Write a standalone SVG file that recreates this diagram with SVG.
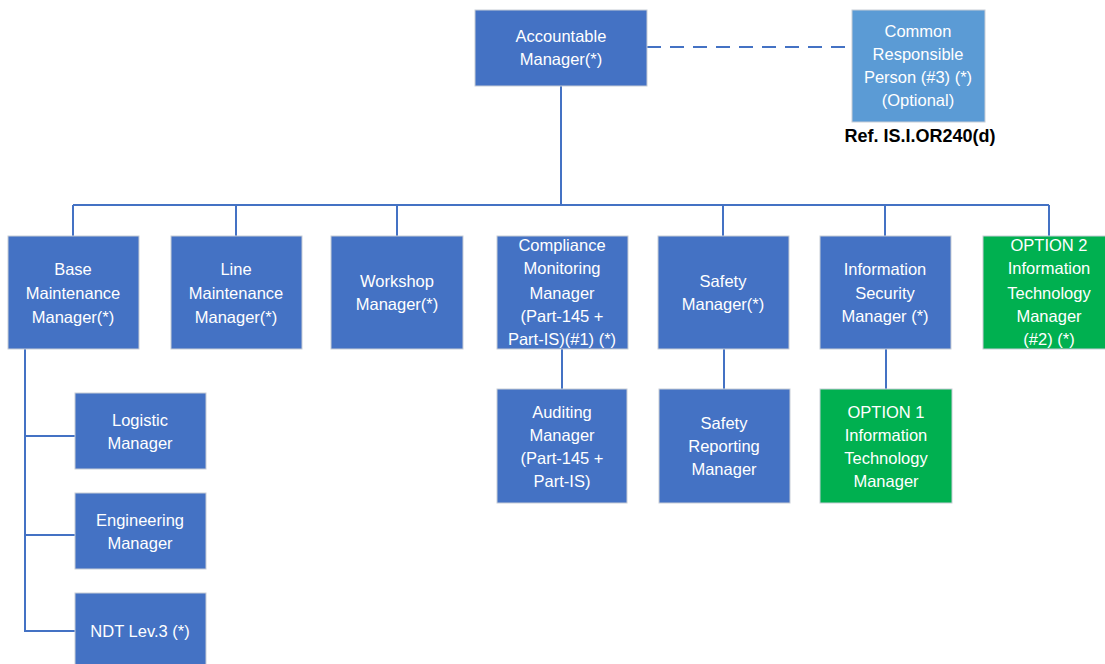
<svg xmlns="http://www.w3.org/2000/svg" width="1105" height="664" viewBox="0 0 1105 664">
  <style>
    .box { fill: #4472C4; stroke: #C8CDD6; stroke-width: 1; }
    .green { fill: #00B050; stroke: #C8CDD6; stroke-width: 1; }
    .light { fill: #5B9BD5; stroke: #C8CDD6; stroke-width: 1; }
    .lbl { font-family: "Liberation Sans", Arial, sans-serif; font-size: 16.5px; fill: #FFFFFF; text-anchor: middle; }
    .ref { font-family: "Liberation Sans", Arial, sans-serif; font-size: 18px; font-weight: bold; fill: #000000; text-anchor: middle; }
    .wire { fill: none; stroke: #4472C4; stroke-width: 2; }
    .dash { fill: none; stroke: #4472C4; stroke-width: 2; stroke-dasharray: 14 9; }
  </style>
  <rect width="1105" height="664" fill="#FFFFFF"/>

  <g id="connectors">
    <line class="dash" x1="647" y1="47" x2="852" y2="47"/>
    <line class="wire" x1="561" y1="86" x2="561" y2="205"/>
    <line class="wire" x1="73" y1="205" x2="1049" y2="205"/>
    <line class="wire" x1="73" y1="205" x2="73" y2="236"/>
    <line class="wire" x1="236" y1="205" x2="236" y2="236"/>
    <line class="wire" x1="397" y1="205" x2="397" y2="236"/>
    <line class="wire" x1="723" y1="205" x2="723" y2="236"/>
    <line class="wire" x1="885" y1="205" x2="885" y2="236"/>
    <line class="wire" x1="1049" y1="205" x2="1049" y2="236"/>
    <line class="wire" x1="562" y1="349" x2="562" y2="389"/>
    <line class="wire" x1="724" y1="349" x2="724" y2="389"/>
    <line class="wire" x1="886" y1="349" x2="886" y2="389"/>
    <polyline class="wire" points="25,349 25,631 75,631"/>
    <line class="wire" x1="25" y1="436" x2="75" y2="436"/>
    <line class="wire" x1="25" y1="535" x2="75" y2="535"/>
  </g>

  <g id="accountable-manager">
    <rect class="box" x="475" y="10" width="172" height="76"/>
    <text class="lbl" x="561" y="42">Accountable</text>
    <text class="lbl" x="561" y="65">Manager(*)</text>
  </g>

  <g id="common-responsible-person">
    <rect class="light" x="852" y="10" width="133" height="112"/>
    <text class="lbl" x="918" y="37">Common</text>
    <text class="lbl" x="918" y="60">Responsible</text>
    <text class="lbl" x="918" y="83">Person (#3) (*)</text>
    <text class="lbl" x="918" y="106">(Optional)</text>
    <text class="ref" x="920" y="142">Ref. IS.I.OR240(d)</text>
  </g>

  <g id="base-maintenance-manager">
    <rect class="box" x="8" y="236" width="131" height="113"/>
    <text class="lbl" x="73" y="275">Base</text>
    <text class="lbl" x="73" y="299">Maintenance</text>
    <text class="lbl" x="73" y="323">Manager(*)</text>
  </g>

  <g id="line-maintenance-manager">
    <rect class="box" x="171" y="236" width="131" height="113"/>
    <text class="lbl" x="236" y="275">Line</text>
    <text class="lbl" x="236" y="299">Maintenance</text>
    <text class="lbl" x="236" y="323">Manager(*)</text>
  </g>

  <g id="workshop-manager">
    <rect class="box" x="331" y="236" width="132" height="113"/>
    <text class="lbl" x="397" y="287">Workshop</text>
    <text class="lbl" x="397" y="310">Manager(*)</text>
  </g>

  <g id="compliance-monitoring-manager">
    <rect class="box" x="497" y="236" width="131" height="113"/>
    <text class="lbl" x="562" y="251">Compliance</text>
    <text class="lbl" x="562" y="274">Monitoring</text>
    <text class="lbl" x="562" y="299">Manager</text>
    <text class="lbl" x="562" y="322">(Part-145 +</text>
    <text class="lbl" x="562" y="345">Part-IS)(#1) (*)</text>
  </g>

  <g id="safety-manager">
    <rect class="box" x="658" y="236" width="131" height="113"/>
    <text class="lbl" x="723" y="287">Safety</text>
    <text class="lbl" x="723" y="310">Manager(*)</text>
  </g>

  <g id="information-security-manager">
    <rect class="box" x="820" y="236" width="131" height="113"/>
    <text class="lbl" x="885" y="275">Information</text>
    <text class="lbl" x="885" y="299">Security</text>
    <text class="lbl" x="885" y="322">Manager (*)</text>
  </g>

  <g id="option2-it-manager">
    <rect class="green" x="983" y="236" width="131" height="113"/>
    <text class="lbl" x="1049" y="251">OPTION 2</text>
    <text class="lbl" x="1049" y="274">Information</text>
    <text class="lbl" x="1049" y="299">Technology</text>
    <text class="lbl" x="1049" y="322">Manager</text>
    <text class="lbl" x="1049" y="345">(#2) (*)</text>
  </g>

  <g id="auditing-manager">
    <rect class="box" x="497" y="389" width="130" height="114"/>
    <text class="lbl" x="562" y="418">Auditing</text>
    <text class="lbl" x="562" y="441">Manager</text>
    <text class="lbl" x="562" y="464">(Part-145 +</text>
    <text class="lbl" x="562" y="487">Part-IS)</text>
  </g>

  <g id="safety-reporting-manager">
    <rect class="box" x="659" y="389" width="131" height="114"/>
    <text class="lbl" x="724" y="429">Safety</text>
    <text class="lbl" x="724" y="452">Reporting</text>
    <text class="lbl" x="724" y="475">Manager</text>
  </g>

  <g id="option1-it-manager">
    <rect class="green" x="820" y="389" width="132" height="114"/>
    <text class="lbl" x="886" y="418">OPTION 1</text>
    <text class="lbl" x="886" y="441">Information</text>
    <text class="lbl" x="886" y="464">Technology</text>
    <text class="lbl" x="886" y="487">Manager</text>
  </g>

  <g id="logistic-manager">
    <rect class="box" x="75" y="393" width="131" height="76"/>
    <text class="lbl" x="140" y="426">Logistic</text>
    <text class="lbl" x="140" y="449">Manager</text>
  </g>

  <g id="engineering-manager">
    <rect class="box" x="75" y="493" width="131" height="76"/>
    <text class="lbl" x="140" y="526">Engineering</text>
    <text class="lbl" x="140" y="549">Manager</text>
  </g>

  <g id="ndt-level3">
    <rect class="box" x="75" y="593" width="131" height="76"/>
    <text class="lbl" x="140" y="637">NDT Lev.3 (*)</text>
  </g>
</svg>
